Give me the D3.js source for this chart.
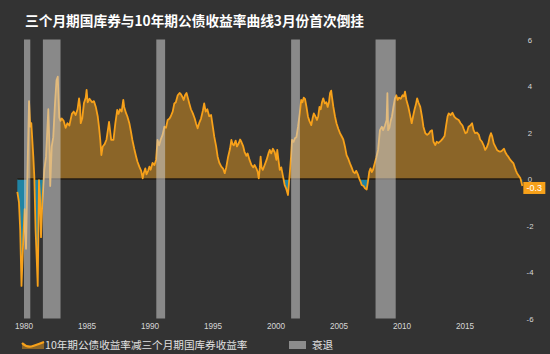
<!DOCTYPE html>
<html>
<head>
<meta charset="utf-8">
<script src="https://cdn.jsdelivr.net/npm/d3@7"></script>
<style>
 html,body{margin:0;padding:0;background:#333;}
 svg{display:block;font-family:"Noto Sans CJK SC","Noto Sans",sans-serif;}
</style>
</head>
<body>
<svg id="chart" width="550" height="354"></svg>
<script>
// ---- data: 10y minus 3m spread, [decimal year, pct pts] ----
const s1980s=[[1979.47,-0.55],[1979.6,-1.0],[1979.7,-2.2],[1979.8,-4.6],[1979.95,-2.5],[1980.05,-1.3],[1980.16,-3.0],[1980.28,0.4],[1980.4,3.35],[1980.5,2.25],[1980.58,2.4],[1980.74,0.95],[1980.82,0.1],[1980.92,-2.2],[1981.0,-3.3],[1981.09,-4.6],[1981.19,-0.05],[1981.27,-0.8],[1981.35,-2.5],[1981.45,-1.05],[1981.61,0.4],[1981.75,0.95],[1981.93,3.0],[1982.03,1.25],[1982.08,-0.3],[1982.2,1.4],[1982.32,1.8],[1982.46,3.25],[1982.58,4.25],[1982.68,4.4],[1982.8,2.65],[1982.9,2.5],[1983.0,2.6],[1983.15,2.5],[1983.3,2.2],[1983.45,2.4],[1983.6,2.3],[1983.8,2.8],[1983.95,2.9],[1984.1,2.75],[1984.25,3.0],[1984.37,3.47],[1984.45,3.1],[1984.5,2.4],[1984.62,2.6],[1984.76,3.27],[1984.9,3.5],[1984.97,3.83],[1985.05,3.3],[1985.2,3.45],[1985.4,3.3],[1985.55,3.35],[1985.7,3.1],[1985.85,2.7],[1985.95,2.25],[1986.05,1.7],[1986.14,1.03],[1986.25,1.4],[1986.4,1.5],[1986.55,1.7],[1986.75,2.46],[1986.85,2.0],[1986.92,1.68],[1987.1,1.68],[1987.25,2.4],[1987.4,2.97],[1987.5,2.8],[1987.62,3.0],[1987.75,2.9],[1987.88,3.4],[1987.95,3.1],[1988.1,2.83],[1988.2,2.7],[1988.36,2.4],[1988.5,2.0],[1988.6,1.68],[1988.75,1.3],[1988.9,0.96],[1989.0,0.75],[1989.15,0.53],[1989.3,0.35],[1989.42,0.03],[1989.5,0.25],[1989.63,0.46],[1989.72,0.2],[1989.85,0.35],[1989.95,0.53]];
const s1990s=[[1990.05,0.4],[1990.2,0.69],[1990.35,0.6],[1990.48,0.82],[1990.6,1.68],[1990.72,1.45],[1990.85,1.7],[1991.0,1.9],[1991.14,2.25],[1991.27,2.2],[1991.4,2.54],[1991.55,2.6],[1991.65,2.7],[1991.8,2.9],[1991.93,3.25],[1992.05,3.3],[1992.2,3.6],[1992.35,3.7],[1992.45,3.65],[1992.55,3.55],[1992.67,3.4],[1992.78,3.6],[1992.9,3.7],[1993.0,3.5],[1993.12,3.25],[1993.25,3.0],[1993.4,2.82],[1993.55,2.6],[1993.65,2.4],[1993.78,2.18],[1993.9,2.4],[1994.05,2.6],[1994.2,2.95],[1994.3,3.25],[1994.42,2.9],[1994.55,3.0],[1994.7,2.7],[1994.85,2.75],[1995.0,2.2],[1995.1,1.82],[1995.25,1.4],[1995.37,0.96],[1995.5,0.7],[1995.66,0.53],[1995.8,0.45],[1995.93,0.25],[1996.05,0.5],[1996.2,0.96],[1996.35,1.3],[1996.46,1.68],[1996.55,1.5],[1996.65,1.45],[1996.8,1.65],[1996.9,1.4],[1997.05,1.55],[1997.15,1.7],[1997.25,1.6],[1997.4,1.4],[1997.5,1.17],[1997.65,1.0],[1997.75,1.1],[1997.9,0.82],[1998.05,0.6],[1998.2,0.5],[1998.3,0.6],[1998.44,0.46],[1998.55,0.3],[1998.63,0.03],[1998.72,0.5],[1998.78,0.96],[1998.85,0.5],[1998.95,0.39],[1999.1,0.6],[1999.25,0.82],[1999.4,1.1],[1999.5,1.25],[1999.62,1.1],[1999.75,1.3],[1999.9,1.15]];
const s2000s=[[2000.03,0.82],[2000.1,1.25],[2000.2,0.8],[2000.3,0.39],[2000.42,0.5],[2000.56,0.1],[2000.69,-0.26],[2000.8,-0.4],[2000.95,-0.69],[2001.08,0.17],[2001.2,1.0],[2001.27,1.68],[2001.4,1.6],[2001.5,1.75],[2001.62,1.8],[2001.75,2.25],[2001.88,2.8],[2002.0,3.4],[2002.1,3.3],[2002.2,3.5],[2002.3,3.45],[2002.42,3.1],[2002.54,2.68],[2002.65,2.5],[2002.8,2.32],[2002.9,2.6],[2003.0,2.82],[2003.12,2.7],[2003.25,2.54],[2003.35,2.7],[2003.45,3.1],[2003.55,3.0],[2003.65,3.3],[2003.75,3.47],[2003.88,3.25],[2004.0,3.3],[2004.1,3.1],[2004.2,3.3],[2004.29,3.69],[2004.38,3.8],[2004.45,3.5],[2004.55,3.11],[2004.68,2.7],[2004.8,2.4],[2004.95,2.15],[2005.08,1.97],[2005.2,1.85],[2005.34,1.7],[2005.47,1.4],[2005.6,1.03],[2005.75,0.85],[2005.87,0.67],[2006.0,0.5],[2006.13,0.31],[2006.25,0.25],[2006.37,0.35],[2006.5,0.2],[2006.6,0.03],[2006.7,-0.1],[2006.8,-0.26],[2006.95,-0.3],[2007.06,-0.4],[2007.2,-0.45],[2007.3,-0.1],[2007.4,0.31],[2007.5,0.46],[2007.6,0.3],[2007.7,0.4],[2007.8,0.6],[2007.95,0.9],[2008.1,1.25],[2008.25,2.1],[2008.4,2.25],[2008.5,2.1],[2008.65,2.3],[2008.78,2.54],[2008.84,3.69],[2008.9,2.1],[2009.0,2.2],[2009.1,2.5],[2009.2,2.68],[2009.32,3.1],[2009.44,3.47],[2009.55,3.6],[2009.65,3.4],[2009.75,3.5],[2009.9,3.45]];
const s2010s=[[2010.05,3.6],[2010.15,3.55],[2010.24,3.76],[2010.35,3.4],[2010.5,3.11],[2010.62,2.8],[2010.77,2.4],[2010.88,2.7],[2011.0,3.0],[2011.1,3.2],[2011.2,3.47],[2011.3,3.3],[2011.45,3.1],[2011.58,2.7],[2011.7,2.25],[2011.85,1.97],[2012.0,1.9],[2012.12,1.95],[2012.25,2.05],[2012.38,2.1],[2012.5,1.6],[2012.64,1.46],[2012.75,1.6],[2012.9,1.55],[2013.1,1.65],[2013.25,1.75],[2013.38,1.85],[2013.5,2.3],[2013.62,2.7],[2013.71,2.82],[2013.85,2.75],[2014.0,2.85],[2014.15,2.68],[2014.3,2.6],[2014.5,2.54],[2014.65,2.4],[2014.8,2.3],[2014.9,2.15],[2015.03,1.97],[2015.15,2.0],[2015.28,2.25],[2015.42,2.3],[2015.56,2.4],[2015.68,2.1],[2015.8,1.97],[2015.95,2.0],[2016.1,1.9],[2016.2,1.7],[2016.35,1.6],[2016.48,1.45],[2016.6,1.25],[2016.72,1.35],[2016.85,1.53],[2016.95,1.8],[2017.06,1.97],[2017.15,1.85],[2017.28,1.53],[2017.4,1.4],[2017.54,1.25],[2017.66,1.2],[2017.78,1.18],[2017.9,1.2],[2018.0,1.25],[2018.1,1.3],[2018.2,1.15],[2018.33,1.03],[2018.45,0.95],[2018.6,0.82],[2018.72,0.75],[2018.85,0.67],[2018.95,0.5],[2019.05,0.35],[2019.13,0.25],[2019.25,0.15],[2019.4,0.03],[2019.55,-0.3]];

// NBER recessions, [start, end] in decimal years
const recessions=[[1980.0,1980.5],[1981.5,1982.9],[1990.5,1991.2],[2001.2,2001.9],[2007.9,2009.5]];
const xTicks=[1980,1985,1990,1995,2000,2005,2010,2015];
const yTicks=[6,4,2,0,-2,-4,-6];
const title="三个月期国库券与10年期公债收益率曲线3月份首次倒挂";
const legendLabels=["10年期公债收益率减三个月期国库券收益率","衰退"];
const lastLabel="-0.3";

const ORANGE="#f7a11a";

// ================= CHART =================
const series=[...s1980s,...s1990s,...s2000s,...s2010s];
const svg=d3.select("#chart");

svg.append("rect").attr("width",550).attr("height",354).attr("fill","#333");

const x=d3.scaleLinear().domain([1980,2015]).range([24,465]);
const y=d3.scaleLinear().domain([-6,6]).range([318.5,39.5]);

// clip regions above / below zero so the fills switch colour exactly at 0
const defs=svg.append("defs");
defs.append("clipPath").attr("id","above").append("rect")
 .attr("x",0).attr("y",0).attr("width",550).attr("height",y(0));
defs.append("clipPath").attr("id","below").append("rect")
 .attr("x",0).attr("y",y(0)).attr("width",550).attr("height",354-y(0));

const area=d3.area().x(d=>x(d[0])).y0(y(0)).y1(d=>y(d[1]));
svg.append("path").datum(series).attr("d",area)
 .attr("fill",ORANGE).attr("fill-opacity",0.45).attr("clip-path","url(#above)");
svg.append("path").datum(series).attr("d",area)
 .attr("fill","#1d93b8").attr("fill-opacity",0.85).attr("clip-path","url(#below)");

// zero line
svg.append("line")
 .attr("x1",x(series[0][0])).attr("x2",x(series[series.length-1][0]))
 .attr("y1",y(0)).attr("y2",y(0))
 .attr("stroke","#231d14").attr("stroke-width",1.5);

const line=d3.line().x(d=>x(d[0])).y(d=>y(d[1]));
svg.append("path").datum(series).attr("d",line)
 .attr("fill","none").attr("stroke",ORANGE).attr("stroke-width",1.8)
 .attr("stroke-linejoin","round");

// recession bars sit on top, semi transparent
svg.selectAll("rect.rec").data(recessions).enter().append("rect")
 .attr("class","rec")
 .attr("x",d=>x(d[0])).attr("width",d=>x(d[1])-x(d[0]))
 .attr("y",y(6)).attr("height",y(-6)-y(6))
 .attr("fill","#cfcfcf").attr("fill-opacity",0.55);

// right axis labels
svg.selectAll("text.yt").data(yTicks).enter().append("text")
 .attr("class","yt")
 .attr("x",530).attr("y",d=>y(d)+3)
 .attr("text-anchor","middle").attr("font-size",7.8).attr("fill","#d6d6d6")
 .attr("font-family","Liberation Sans, Arial, sans-serif")
 .text(d=>d);

// bottom axis labels
svg.selectAll("text.xt").data(xTicks).enter().append("text")
 .attr("class","xt")
 .attr("x",d=>x(d)).attr("y",329)
 .attr("text-anchor","middle").attr("font-size",8.2).attr("fill","#d6d6d6")
 .attr("font-family","Liberation Sans, Arial, sans-serif")
 .text(d=>d);

// last value tag
const last=series[series.length-1];
const tag=svg.append("g").attr("transform",`translate(${x(last[0])+1},${y(last[1])-4})`);
tag.append("rect").attr("width",22).attr("height",12).attr("fill",ORANGE);
tag.append("text").attr("x",11).attr("y",9.5).attr("text-anchor","middle")
 .attr("font-size",9).attr("fill","#fff")
 .attr("font-family","Liberation Sans, Arial, sans-serif").text(lastLabel);

// title
svg.append("text").attr("x",25).attr("y",26)
 .attr("font-size",13.7).attr("font-weight","bold").attr("fill","#fff")
 .text(title);

// legend
const lg=svg.append("g");
lg.append("path").attr("d","M22,343 Q27,348 33,346 T44,342 L44,349 L22,349 Z")
 .attr("fill",ORANGE).attr("fill-opacity",0.45);
lg.append("path").attr("d","M22,343 Q27,348 33,346 T44,342")
 .attr("fill","none").attr("stroke",ORANGE).attr("stroke-width",2.2);
lg.append("text").attr("x",45).attr("y",349)
 .attr("font-size",10.6).attr("fill","#e0e0e0").text(legendLabels[0]);
lg.append("rect").attr("x",289).attr("y",341).attr("width",17).attr("height",8)
 .attr("fill","#8c8c8c");
lg.append("text").attr("x",312).attr("y",349)
 .attr("font-size",10.6).attr("fill","#e0e0e0").text(legendLabels[1]);
</script>
</body>
</html>
